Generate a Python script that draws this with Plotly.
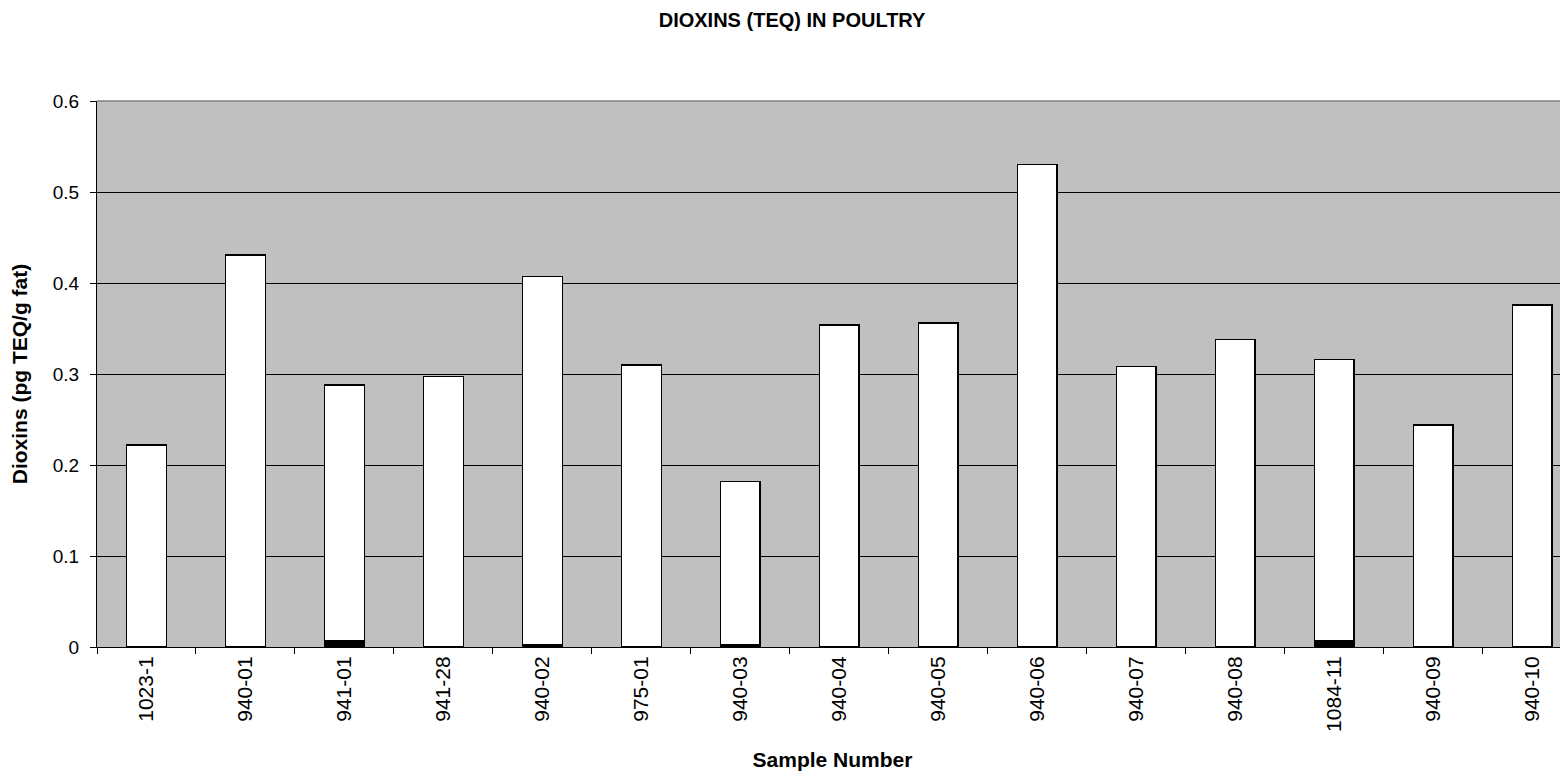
import plotly.graph_objects as go

samples = ["1023-1", "940-01", "941-01", "941-28", "940-02", "975-01", "940-03",
           "940-04", "940-05", "940-06", "940-07", "940-08", "1084-11", "940-09", "940-10"]
totals = [0.222, 0.431, 0.288, 0.297, 0.407, 0.310, 0.182,
          0.354, 0.356, 0.530, 0.308, 0.338, 0.316, 0.244, 0.376]
black_part = [0.0, 0.0, 0.007, 0.0, 0.003, 0.0, 0.003,
              0.0, 0.0, 0.0, 0.0, 0.0, 0.007, 0.0, 0.0]
white_part = [t - b for t, b in zip(totals, black_part)]
y_ticks = [0, 0.1, 0.2, 0.3, 0.4, 0.5, 0.6]
y_tick_labels = ["0", "0.1", "0.2", "0.3", "0.4", "0.5", "0.6"]

font_family = "Arial, Liberation Sans, sans-serif"

fig = go.Figure()
fig.add_trace(go.Bar(x=samples, y=black_part, marker=dict(color="black", line=dict(color="black", width=1.5)),
                     width=0.4, showlegend=False))
fig.add_trace(go.Bar(x=samples, y=white_part, marker=dict(color="white", line=dict(color="black", width=1.5)),
                     width=0.4, showlegend=False))

fig.update_layout(
    width=1560, height=763,
    barmode="stack",
    paper_bgcolor="white",
    plot_bgcolor="#C0C0C0",
    margin=dict(l=89, r=0, t=93, b=124),
    font=dict(family=font_family, color="black"),
    title=dict(text="<b>DIOXINS (TEQ) IN POULTRY</b>", x=0.5026, xanchor="center", y=0.984, yanchor="middle",
               font=dict(size=20, family=font_family)),
    xaxis=dict(
        type="category",
        range=[-0.5, 14.36],
        tickangle=-90,
        tickfont=dict(size=21),
        ticks="outside", ticklen=6, tickcolor="black",
        tickson="boundaries",
        showline=True, linecolor="black", linewidth=1,
        showgrid=False,
        automargin=False,
        title=dict(text="<b>Sample Number</b>", font=dict(size=21), standoff=34),
    ),
    yaxis=dict(
        range=[0, 0.6],
        tickvals=y_ticks,
        ticktext=y_tick_labels,
        tickfont=dict(size=19),
        ticks="outside", ticklen=6, tickcolor="black",
        ticklabelstandoff=7,
        showline=True, linecolor="black", linewidth=1,
        showgrid=True, gridcolor="black", gridwidth=1,
        zeroline=False,
        automargin=False,
        title=dict(text="<b>Dioxins (pg TEQ/g fat)</b>", font=dict(size=21), standoff=26),
    ),
    shapes=[dict(type="line", xref="paper", yref="paper", x0=0, x1=1, y0=1, y1=1,
                 line=dict(color="#808080", width=1.5))],
)

fig.write_html("out.html")
